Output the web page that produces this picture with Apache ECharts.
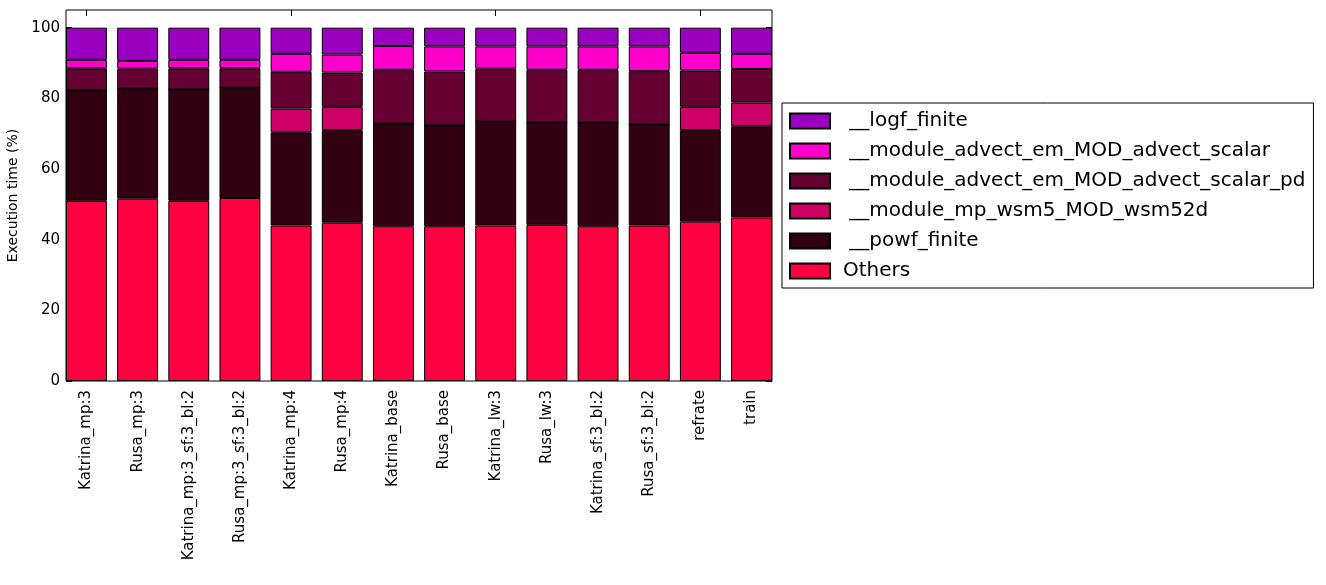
<!DOCTYPE html>
<html style="height: 100%">
<head>
<meta charset="utf-8">
<script src="https://cdn.jsdelivr.net/npm/echarts@6/dist/echarts.min.js"></script>
</head>
<body style="height: 100%; margin: 0; background: #fff;">
<div id="container" style="width: 1326px; height: 585px;"></div>
<script>
var categories = ['Katrina_mp:3', 'Rusa_mp:3', 'Katrina_mp:3_sf:3_bl:2', 'Rusa_mp:3_sf:3_bl:2',
  'Katrina_mp:4', 'Rusa_mp:4', 'Katrina_base', 'Rusa_base', 'Katrina_lw:3', 'Rusa_lw:3',
  'Katrina_sf:3_bl:2', 'Rusa_sf:3_bl:2', 'refrate', 'train'];

// stacked from bottom (Others) to top (__logf_finite)
var others = [51.0, 51.6, 51.0, 51.8, 44.0, 44.8, 43.8, 43.8, 44.0, 44.2, 43.8, 44.0, 45.1, 46.3];
var powf   = [31.3, 31.1, 31.5, 31.2, 26.4, 26.2, 29.0, 28.5, 29.4, 28.9, 29.3, 28.6, 25.9, 25.8];
var wsm    = [0, 0, 0, 0, 6.7, 6.6, 0, 0, 0, 0, 0, 0, 6.6, 6.7];
var advPd  = [6.2, 5.7, 6.0, 5.5, 10.4, 9.7, 15.3, 15.3, 15.0, 15.0, 15.0, 15.1, 10.3, 9.5];
var adv    = [2.4, 2.2, 2.4, 2.4, 5.1, 5.1, 6.7, 7.1, 6.3, 6.6, 6.6, 7.0, 5.0, 4.3];
var logf   = [9.1, 9.4, 9.1, 9.1, 7.4, 7.6, 5.2, 5.3, 5.3, 5.3, 5.3, 5.3, 7.1, 7.4];

var seriesNames = ['Others', ' __powf_finite', ' __module_mp_wsm5_MOD_wsm52d',
  ' __module_advect_em_MOD_advect_scalar_pd', ' __module_advect_em_MOD_advect_scalar', ' __logf_finite'];
var seriesData = [others, powf, wsm, advPd, adv, logf];
var colors = ['#ff0040', '#330011', '#cc0066', '#660033', '#ff00cc', '#9b00c0'];

var yTicks = [0, 20, 40, 60, 80, 100];

var font = 'DejaVu Sans';
var chart = echarts.init(document.getElementById('container'));

// matplotlib-like layout: bars 0.8 wide, x limits at the outer bar edges
var frameLeft = 66, frameRight = 772;
var pitch = (frameRight - frameLeft) / (categories.length - 0.2);
var barsLeft = frameLeft - 0.1 * pitch;
var barsRight = 1326 - (frameRight + 0.1 * pitch);

var series = seriesNames.map(function (name, k) {
  return {
    name: name,
    type: 'bar',
    stack: 'total',
    barCategoryGap: '20%',
    xAxisIndex: 0,
    yAxisIndex: 0,
    itemStyle: { color: colors[k], borderColor: '#000', borderWidth: 1 },
    emphasis: { disabled: true },
    data: seriesData[k]
  };
});

var tickStyle = { show: true, inside: true, length: 6, lineStyle: { color: '#000', width: 1 } };

chart.setOption({
  animation: false,
  textStyle: { fontFamily: font, color: '#000' },
  grid: [{
    left: barsLeft, right: barsRight, top: 10, bottom: 204, outerBoundsMode: 'none'
  }, {
    left: frameLeft, right: 1326 - frameRight, top: 10, bottom: 204, outerBoundsMode: 'none',
    show: true, borderColor: '#000', borderWidth: 1, backgroundColor: 'transparent', z: 10
  }],
  legend: {
    orient: 'vertical',
    left: 782, top: 103,
    padding: [8, 8, 7, 7],
    icon: 'rect',
    itemWidth: 40, itemHeight: 15, itemGap: 10,
    borderColor: '#000', borderWidth: 1,
    data: seriesNames.slice().reverse(),
    textStyle: { fontFamily: font, fontSize: 20, color: '#000', padding: [0, 0, 0, 8] }
  },
  xAxis: [{
    type: 'category', gridIndex: 0, data: categories, position: 'bottom',
    axisLine: { show: false },
    axisTick: Object.assign({ alignWithLabel: true }, tickStyle),
    axisLabel: { rotate: 90, fontSize: 15, fontFamily: font, color: '#000', margin: 9, interval: 0 }
  }, {
    type: 'category', gridIndex: 0, data: categories, position: 'top',
    axisLine: { show: false },
    axisTick: Object.assign({ alignWithLabel: true }, tickStyle),
    axisLabel: { show: false }
  }, {
    type: 'value', gridIndex: 1, min: 0, max: 1,
    axisLine: { show: false }, axisTick: { show: false },
    axisLabel: { show: false }, splitLine: { show: false }
  }],
  yAxis: [{
    type: 'value', gridIndex: 0, min: 0, max: 105,
    show: false
  }, {
    type: 'value', gridIndex: 1, min: 0, max: 105, position: 'left',
    name: 'Execution time (%)', nameLocation: 'middle', nameGap: 42,
    nameTextStyle: { fontFamily: font, fontSize: 14, color: '#000' },
    splitLine: { show: false },
    axisLine: { show: false },
    axisTick: Object.assign({ customValues: yTicks }, tickStyle),
    axisLabel: { customValues: yTicks, fontSize: 15, fontFamily: font, color: '#000', margin: 6 }
  }, {
    type: 'value', gridIndex: 1, min: 0, max: 105, position: 'right',
    splitLine: { show: false },
    axisLine: { show: false },
    axisTick: Object.assign({ customValues: yTicks }, tickStyle),
    axisLabel: { show: false }
  }],
  series: series
});
</script>
</body>
</html>
